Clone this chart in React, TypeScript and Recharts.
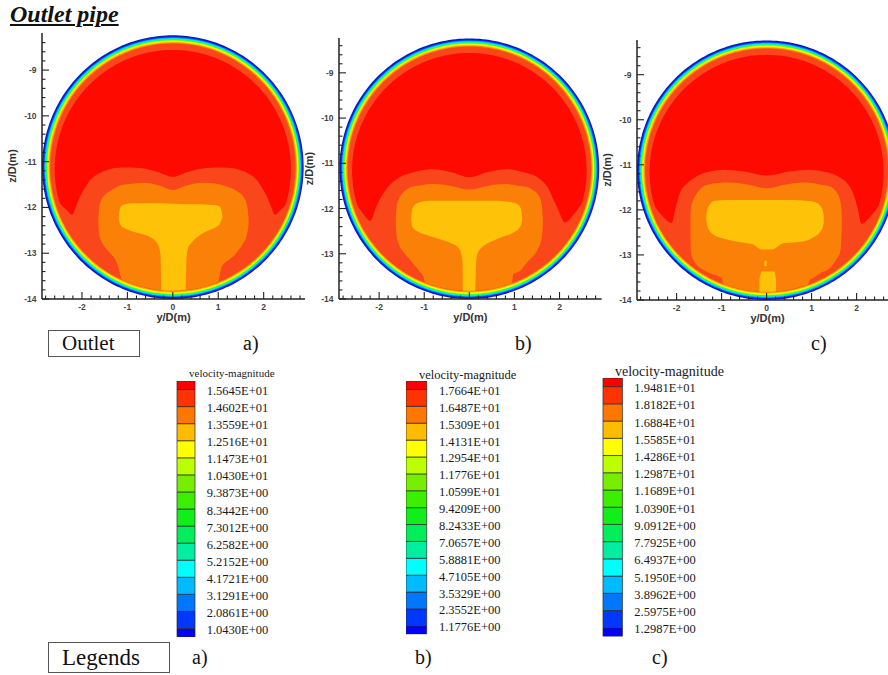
import React from "react";
import { ComposedChart, Area, XAxis, YAxis, BarChart, Bar } from "recharts";

// pipe wall (data units)
const PIPE_CY = -11.12;
const RING_RADII = [2.88, 2.855, 2.835, 2.82, 2.805, 2.79, 2.775, 2.76, 2.74, 2.72, 2.7];
const RING_COLORS = ["#1414b0", "#0030ff", "#0088ff", "#00d4ff", "#00ffbb", "#22ff33", "#aaff00", "#ffff00", "#ffc400", "#ff8200", "#f9461a"];
const RED_CY = -11.16;
const RED_R = 2.6;
const SHAPE_R = 2.7;

const RED = "#fe0a00";
const RED_ORANGE = "#f9461a";
const ORANGE = "#fb8008";
const YELLOW = "#fec208";

// contour rows: [y/D, upper z/D, lower z/D | null = pipe wall]
type Row = [number, number, number | null];

const RO_A: Row[] = [
  [-2.63, -11.62, null], [-2.55, -11.8, null], [-2.45, -11.95, null], [-2.33, -12.06, null],
  [-2.22, -12.16, null], [-2.12, -11.95, null], [-2.04, -11.76, null], [-1.92, -11.55, null],
  [-1.82, -11.4, null], [-1.65, -11.27, null], [-1.45, -11.18, null], [-1.1, -11.13, null],
  [-0.72, -11.14, null], [-0.35, -11.22, null], [0, -11.33, null], [0.35, -11.22, null],
  [0.75, -11.14, null], [1.1, -11.13, null], [1.48, -11.18, null], [1.68, -11.27, null],
  [1.85, -11.4, null], [1.95, -11.55, null], [2.07, -11.76, null], [2.15, -11.95, null],
  [2.25, -12.16, null], [2.36, -12.06, null], [2.48, -11.95, null], [2.57, -11.8, null],
  [2.64, -11.62, null],
];
const ORANGE_A: Row[] = [
  [-1.64, -12.25, -12.35], [-1.62, -12.0, -12.6], [-1.58, -11.85, -12.72], [-1.5, -11.73, -12.86],
  [-1.4, -11.65, -12.98], [-1.28, -11.58, -13.12], [-1.2, -11.54, -13.3], [-1.16, -11.52, -13.47],
  [-1.12, -11.51, null], [-0.9, -11.48, null], [-0.65, -11.46, null], [-0.3, -11.52, null],
  [0, -11.62, null], [0.3, -11.52, null], [0.67, -11.46, null], [0.95, -11.48, null],
  [1.0, -11.49, null], [1.04, -11.5, -13.44], [1.08, -11.51, -13.29], [1.2, -11.55, -13.17],
  [1.33, -11.6, -13.07], [1.45, -11.67, -12.93], [1.55, -11.76, -12.78], [1.62, -11.9, -12.64],
  [1.65, -12.05, -12.5], [1.67, -12.25, -12.35],
];
const YELLOW_A: Row[] = [
  [-1.19, -12.2, -12.24], [-1.17, -12.05, -12.34], [-1.13, -11.97, -12.41], [-1.05, -11.93, -12.46],
  [-0.9, -11.91, -12.52], [-0.72, -11.91, -12.57], [-0.5, -11.91, -12.65], [-0.38, -11.91, -12.74],
  [-0.3, -11.91, -12.88], [-0.27, -11.91, -13.05], [-0.25, -11.91, null], [0, -11.92, null],
  [0.28, -11.93, null], [0.3, -11.93, -13.15], [0.33, -11.93, -12.9], [0.42, -11.93, -12.76],
  [0.6, -11.93, -12.6], [0.8, -11.94, -12.5], [0.95, -11.95, -12.43], [1.03, -11.98, -12.36],
  [1.07, -12.06, -12.28], [1.09, -12.18, -12.22],
];

const RO_B: Row[] = [
  [-2.63, -11.62, null], [-2.5, -11.9, null], [-2.35, -12.12, null], [-2.19, -12.27, null],
  [-2.08, -12.0, null], [-1.98, -11.79, null], [-1.8, -11.52, null], [-1.61, -11.35, null],
  [-1.24, -11.2, null], [-0.8, -11.13, null], [-0.4, -11.2, null], [0, -11.31, null],
  [0.4, -11.2, null], [0.83, -11.13, null], [1.2, -11.2, null], [1.57, -11.35, null],
  [1.75, -11.55, null], [1.86, -11.79, null], [1.98, -12.05, null], [2.12, -12.31, null],
  [2.3, -12.15, null], [2.45, -11.95, null], [2.61, -11.66, null],
];
const ORANGE_B: Row[] = [
  [-1.63, -12.2, -12.4], [-1.61, -11.95, -12.62], [-1.56, -11.78, -12.8], [-1.47, -11.65, -12.95],
  [-1.36, -11.56, -13.08], [-1.22, -11.51, -13.25], [-1.09, -11.49, -13.41], [-1.02, -11.48, -13.5],
  [-0.98, -11.47, null], [-0.8, -11.46, null], [-0.4, -11.5, null], [0, -11.58, null],
  [0.4, -11.5, null], [0.83, -11.46, null], [0.94, -11.47, null], [0.98, -11.48, -13.45],
  [1.12, -11.5, -13.38], [1.3, -11.53, -13.17], [1.42, -11.6, -13.05], [1.53, -11.7, -12.88],
  [1.6, -11.88, -12.68], [1.63, -12.2, -12.4],
];
const YELLOW_B: Row[] = [
  [-1.29, -12.2, -12.25], [-1.27, -12.03, -12.38], [-1.22, -11.93, -12.46], [-1.1, -11.86, -12.53],
  [-0.9, -11.83, -12.6], [-0.65, -11.83, -12.68], [-0.4, -11.83, -12.77], [-0.25, -11.83, -12.86],
  [-0.18, -11.83, -13.0], [-0.15, -11.83, -13.2], [-0.14, -11.83, null], [0, -11.83, null],
  [0.13, -11.83, null], [0.15, -11.83, -13.2], [0.18, -11.83, -13.0], [0.24, -11.83, -12.9],
  [0.35, -11.83, -12.8], [0.53, -11.83, -12.71], [0.75, -11.84, -12.62], [0.98, -11.87, -12.53],
  [1.1, -11.93, -12.44], [1.15, -12.03, -12.35], [1.17, -12.18, -12.26],
];

const RO_C: Row[] = [
  [-2.63, -11.62, null], [-2.5, -11.9, null], [-2.3, -12.15, null], [-2.11, -12.29, null],
  [-2.02, -11.95, null], [-1.93, -11.63, null], [-1.75, -11.4, null], [-1.56, -11.26, null],
  [-1.25, -11.15, null], [-0.96, -11.11, null], [-0.5, -11.15, null], [0, -11.24, null],
  [0.5, -11.15, null], [0.96, -11.11, null], [1.25, -11.15, null], [1.59, -11.26, null],
  [1.78, -11.4, null], [1.92, -11.63, null], [2.02, -11.95, null], [2.11, -12.31, null],
  [2.3, -12.15, null], [2.5, -11.9, null], [2.63, -11.62, null],
];
const ORANGE_C: Row[] = [
  [-1.69, -12.1, -12.8], [-1.67, -11.9, -13.0], [-1.63, -11.78, -13.1], [-1.52, -11.6, -13.25],
  [-1.41, -11.48, -13.33], [-1.2, -11.42, -13.43], [-1.0, -11.4, -13.51], [-0.96, -11.39, null],
  [-0.82, -11.39, null], [-0.4, -11.44, null], [0, -11.52, null], [0.4, -11.44, null],
  [0.81, -11.39, null], [0.92, -11.39, null], [0.96, -11.4, -13.55], [1.04, -11.41, -13.51],
  [1.2, -11.44, -13.4], [1.41, -11.48, -13.29], [1.55, -11.6, -13.1], [1.63, -11.78, -12.95],
  [1.66, -11.95, -12.7], [1.67, -12.1, -12.4],
];
const YELLOW_C: Row[] = [
  [-1.34, -12.15, -12.22], [-1.32, -12.0, -12.34], [-1.27, -11.89, -12.46], [-1.15, -11.8, -12.57],
  [-0.9, -11.78, -12.65], [-0.67, -11.78, -12.7], [-0.3, -11.78, -12.77], [-0.11, -11.78, -12.88],
  [0.11, -11.78, -12.88], [0.37, -11.78, -12.74], [0.81, -11.79, -12.7], [1.05, -11.82, -12.6],
  [1.18, -11.9, -12.5], [1.25, -12.02, -12.38], [1.27, -12.15, -12.28],
];
const YELLOW_C_FOOT: Row[] = [
  [-0.16, -13.55, null], [-0.11, -13.37, null], [0.17, -13.37, null], [0.21, -13.55, null],
];
const YELLOW_C_DASH: Row[] = [
  [-0.05, -13.13, -13.25], [0.0, -13.13, -13.25],
];

// axis ticks
const X_TICKS = [-2.8, -2.6, -2.4, -2.2, -2, -1.8, -1.6, -1.4, -1.2, -1, -0.8, -0.6, -0.4, -0.2, 0,
  0.2, 0.4, 0.6, 0.8, 1, 1.2, 1.4, 1.6, 1.8, 2, 2.2, 2.4, 2.6, 2.8];
const Y_TICKS = [-14, -13.8, -13.6, -13.4, -13.2, -13, -12.8, -12.6, -12.4, -12.2, -12, -11.8, -11.6,
  -11.4, -11.2, -11, -10.8, -10.6, -10.4, -10.2, -10, -9.8, -9.6, -9.4, -9.2, -9, -8.8, -8.6, -8.4];

// colour bars (bottom to top) and their labels (top to bottom)
const BAND_COLORS = ["#0000ff", "#0038ff", "#0077ff", "#00bbff", "#00ffff", "#00eea0", "#00ee5a",
  "#11ee1a", "#3cee00", "#77ee00", "#bbff00", "#ffff00", "#ffbb00", "#ff7700", "#ff3300", "#ff0000"];
const BAND_SPANS = [0.5, 1, 1, 1, 1, 1, 1, 1, 1, 1, 1, 1, 1, 1, 1, 0.5];
const CB_TICKS = [0.5, 1.5, 2.5, 3.5, 4.5, 5.5, 6.5, 7.5, 8.5, 9.5, 10.5, 11.5, 12.5, 13.5, 14.5];
const LEGEND_A = ["1.5645E+01", "1.4602E+01", "1.3559E+01", "1.2516E+01", "1.1473E+01", "1.0430E+01",
  "9.3873E+00", "8.3442E+00", "7.3012E+00", "6.2582E+00", "5.2152E+00", "4.1721E+00", "3.1291E+00",
  "2.0861E+00", "1.0430E+00"];
const LEGEND_B = ["1.7664E+01", "1.6487E+01", "1.5309E+01", "1.4131E+01", "1.2954E+01", "1.1776E+01",
  "1.0599E+01", "9.4209E+00", "8.2433E+00", "7.0657E+00", "5.8881E+00", "4.7105E+00", "3.5329E+00",
  "2.3552E+00", "1.1776E+00"];
const LEGEND_C = ["1.9481E+01", "1.8182E+01", "1.6884E+01", "1.5585E+01", "1.4286E+01", "1.2987E+01",
  "1.1689E+01", "1.0390E+01", "9.0912E+00", "7.7925E+00", "6.4937E+00", "5.1950E+00", "3.8962E+00",
  "2.5975E+00", "1.2987E+00"];

const SERIF = "Liberation Serif";

function circleRows(r: number, cy: number, n = 120) {
  const out = [];
  for (let i = 0; i <= n; i++) {
    const a = Math.PI - (Math.PI * i) / n;
    const s = r * Math.sin(a);
    out.push({ x: r * Math.cos(a), v: [cy - s, cy + s] });
  }
  return out;
}

function shapeRows(rows: Row[]) {
  return rows.map(([x, top, bottom]) => {
    const wall = PIPE_CY - Math.sqrt(Math.max(0, SHAPE_R * SHAPE_R - x * x));
    const low = bottom === null ? Math.min(wall, top) : bottom;
    return { x, v: [low, top] };
  });
}

const TICK_FONT = { fontFamily: "Liberation Sans", fontWeight: 700, fontSize: 8.5, fill: "#444" };
const AXIS_TITLE = { fontFamily: "Liberation Sans", fontWeight: 700, fontSize: 11, fill: "#333", textAnchor: "middle" as const };

const isMajor = (v: number) => Math.abs(v - Math.round(v)) < 1e-6;

const XTick = (p: any) => {
  const { x, y, payload } = p;
  const major = isMajor(payload.value);
  return (
    <g>
      <line x1={x} x2={x} y1={y} y2={y - (major ? 7 : 3.5)} stroke="#222" strokeWidth={1.1} />
      {major && (
        <text x={x} y={y + 8} textAnchor="middle" dominantBaseline="central" style={TICK_FONT}>
          {String(Math.round(payload.value))}
        </text>
      )}
    </g>
  );
};

const YTick = (p: any) => {
  const { x, y, payload } = p;
  const major = isMajor(payload.value);
  return (
    <g>
      <line x1={x} x2={x + (major ? 7 : 3.5)} y1={y} y2={y} stroke="#222" strokeWidth={1.1} />
      {major && (
        <text x={x - 5.5} y={y} textAnchor="end" dominantBaseline="central" style={TICK_FONT}>
          {String(Math.round(payload.value))}
        </text>
      )}
    </g>
  );
};

function fillArea(key: string, data: any[], fill: string, type: "linear" | "monotone") {
  return (
    <Area
      key={key}
      data={data}
      dataKey="v"
      type={type}
      fill={fill}
      fillOpacity={1}
      stroke="none"
      dot={false}
      activeDot={false}
      isAnimationActive={false}
    />
  );
}

type PanelProps = {
  left: number;
  top: number;
  w: number;
  h: number;
  xDomain: [number, number];
  yDomain: [number, number];
  ro: Row[];
  orange: Row[];
  yellow: Row[][];
};

function Panel({ left, top, w, h, xDomain, yDomain, ro, orange, yellow }: PanelProps) {
  const ML = 40;
  const MT = 4;
  const MB = 30;
  return (
    <div style={{ position: "absolute", left: left - ML, top: top - MT }}>
      <ComposedChart width={ML + w + 2} height={MT + h + MB} margin={{ top: MT, right: 2, bottom: 0, left: 0 }}>
        <XAxis
          type="number"
          dataKey="x"
          domain={xDomain}
          allowDataOverflow
          ticks={X_TICKS}
          interval={0}
          tickLine={false}
          tickSize={0}
          tickMargin={0}
          height={MB}
          axisLine={{ stroke: "#222", strokeWidth: 1.5 }}
          tick={(p: any) => <XTick {...p} />}
          label={{ value: "y/D(m)", position: "insideTop", offset: 14.5, style: AXIS_TITLE }}
        />
        <YAxis
          type="number"
          domain={yDomain}
          allowDataOverflow
          ticks={Y_TICKS}
          interval={0}
          tickLine={false}
          tickSize={0}
          tickMargin={0}
          width={ML}
          axisLine={{ stroke: "#222", strokeWidth: 1.5 }}
          tick={(p: any) => <YTick {...p} />}
          label={{ value: "z/D(m)", position: "insideLeft", angle: -90, offset: 10, style: AXIS_TITLE }}
        />
        {RING_RADII.map((r, i) => fillArea(`ring${i}`, circleRows(r, PIPE_CY), RING_COLORS[i], "linear"))}
        {fillArea("red", circleRows(RED_R, RED_CY), RED, "linear")}
        {fillArea("ro", shapeRows(ro), RED_ORANGE, "monotone")}
        {fillArea("orange", shapeRows(orange), ORANGE, "monotone")}
        {yellow.map((rows, i) => fillArea(`yellow${i}`, shapeRows(rows), YELLOW, "monotone"))}
      </ComposedChart>
    </div>
  );
}

const BarLabel = (p: any) => {
  const { x, y, payload, labels } = p;
  return (
    <text
      x={x}
      y={y + 1.5}
      textAnchor="start"
      dominantBaseline="central"
      style={{ fontFamily: SERIF, fontSize: 12.5, fill: "#1a1a1a" }}
    >
      {labels[Math.round(14.5 - payload.value)]}
    </text>
  );
};

type BarProps = {
  left: number;
  top: number;
  barW: number;
  barH: number;
  gap: number;
  labels: string[];
  titleLeft: number;
  titleY: number;
  titleSize: number;
};

function ColorBar({ left, top, barW, barH, gap, labels, titleLeft, titleY, titleSize }: BarProps) {
  const row: Record<string, number | string> = { name: "bar" };
  BAND_SPANS.forEach((s, i) => {
    row[`b${i}`] = s;
  });
  const AW = 95;
  const M = 8;
  return (
    <>
      <div
        style={{
          position: "absolute",
          left: titleLeft,
          top: titleY - titleSize * 0.6,
          fontFamily: SERIF,
          fontSize: titleSize,
          lineHeight: 1.2 + "",
          color: "#1a1a1a",
          whiteSpace: "nowrap",
        }}
      >
        velocity-magnitude
      </div>
      <div style={{ position: "absolute", left, top: top - M }}>
        <BarChart
          width={barW + AW}
          height={barH + 2 * M}
          data={[row]}
          margin={{ top: M, right: 0, bottom: M, left: 0 }}
          barCategoryGap={0}
          barSize={barW}
        >
          <XAxis dataKey="name" hide />
          <YAxis
            orientation="right"
            type="number"
            domain={[0, 15]}
            allowDataOverflow
            ticks={CB_TICKS}
            interval={0}
            width={AW}
            axisLine={false}
            tickLine={false}
            tickSize={0}
            tickMargin={gap}
            tick={(p: any) => <BarLabel {...p} labels={labels} />}
          />
          {BAND_COLORS.map((c, i) => (
            <Bar
              key={i}
              dataKey={`b${i}`}
              stackId="cb"
              fill={c}
              stroke="#2a2a2a"
              strokeWidth={0.7}
              isAnimationActive={false}
            />
          ))}
        </BarChart>
      </div>
    </>
  );
}

function Tag({ text, left, top, w, h, size }: { text: string; left: number; top: number; w: number; h: number; size: number }) {
  return (
    <div
      style={{
        position: "absolute",
        left,
        top,
        width: w,
        height: h,
        border: "1px solid #555",
        boxSizing: "border-box",
        fontFamily: SERIF,
        fontSize: size,
        lineHeight: h - 2 + "px",
        paddingLeft: 13,
        color: "#111",
      }}
    >
      {text}
    </div>
  );
}

function Note({ text, left, cy, size }: { text: string; left: number; cy: number; size: number }) {
  return (
    <div
      style={{
        position: "absolute",
        left,
        top: cy - size * 0.6,
        fontFamily: SERIF,
        fontSize: size,
        lineHeight: 1.2 + "",
        color: "#111",
      }}
    >
      {text}
    </div>
  );
}

export default function App() {
  return (
    <div
      style={{
        position: "absolute",
        left: 0,
        top: 0,
        width: 888,
        height: 675,
        overflow: "hidden",
        background: "#fff",
      }}
    >
      <div
        style={{
          position: "absolute",
          left: 10,
          top: 1,
          fontFamily: SERIF,
          fontWeight: 700,
          fontStyle: "italic",
          fontSize: 24,
          lineHeight: "26px",
          textDecoration: "underline",
          color: "#111",
        }}
      >
        Outlet pipe
      </div>

      <Panel left={42} top={33} w={263} h={266} xDomain={[-2.88, 2.91]} yDomain={[-14, -8.19]}
        ro={RO_A} orange={ORANGE_A} yellow={[YELLOW_A]} />
      <Panel left={339} top={38.3} w={262.7} h={261} xDomain={[-2.89, 2.935]} yDomain={[-14, -8.23]}
        ro={RO_B} orange={ORANGE_B} yellow={[YELLOW_B]} />
      <Panel left={636.7} top={40} w={261} h={260} xDomain={[-2.88, 2.92]} yDomain={[-14, -8.23]}
        ro={RO_C} orange={ORANGE_C} yellow={[YELLOW_C, YELLOW_C_FOOT, YELLOW_C_DASH]} />

      <Tag text="Outlet" left={48} top={330} w={92} h={27} size={21} />
      <Note text="a)" left={243} cy={343} size={20} />
      <Note text="b)" left={515} cy={343} size={20} />
      <Note text="c)" left={811} cy={343} size={20} />

      <ColorBar left={176} top={380.7} barW={20} barH={256} gap={10.7} labels={LEGEND_A}
        titleLeft={189} titleY={374} titleSize={11} />
      <ColorBar left={406} top={380.7} barW={20.7} barH={253.3} gap={12.3} labels={LEGEND_B}
        titleLeft={419} titleY={375} titleSize={12.5} />
      <ColorBar left={601.7} top={378.3} barW={21.6} barH={258.4} gap={10.7} labels={LEGEND_C}
        titleLeft={615} titleY={372} titleSize={14} />

      <Tag text="Legends" left={48} top={642} w={122} h={31} size={23} />
      <Note text="a)" left={192} cy={657} size={20} />
      <Note text="b)" left={415} cy={657} size={20} />
      <Note text="c)" left={652} cy={657} size={20} />
    </div>
  );
}
